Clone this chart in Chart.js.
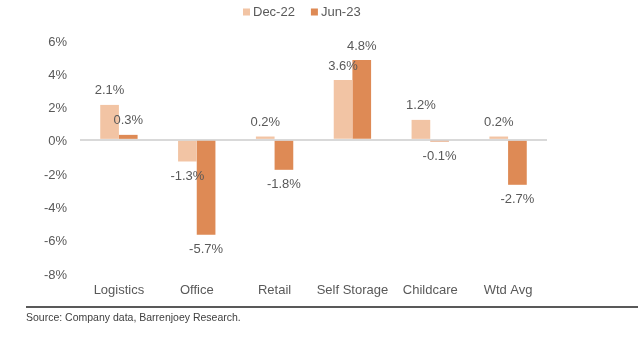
<!DOCTYPE html>
<html>
<head>
<meta charset="utf-8">
<script src="https://cdn.jsdelivr.net/npm/chart.js@4.4.0/dist/chart.umd.min.js"></script>
<style>
  body { margin: 0; background: #fff; font-family: "Liberation Sans", Arial, sans-serif; }
  #wrap { position: absolute; left: 0; top: 0; width: 638px; height: 350px; }
  #rule { position: absolute; left: 26px; right: 0; top: 306px; height: 2px; background: #595959; }
  #source { position: absolute; left: 26px; top: 311px; font-size: 10.5px; color: #404040; }
</style>
</head>
<body>
<div id="wrap"><canvas id="chart"></canvas></div>
<div id="rule"></div>
<div id="source">Source: Company data, Barrenjoey Research.</div>
<script>
// data
var categories = ["Logistics", "Office", "Retail", "Self Storage", "Childcare", "Wtd Avg"];
var dec22 = [2.1, -1.3, 0.2, 3.6, 1.2, 0.2];
var jun23 = [0.3, -5.7, -1.8, 4.8, -0.1, -2.7];
var seriesNames = ["Dec-22", "Jun-23"];
var seriesColors = ["#F2C4A4", "#DE8A55"];

var fontFam = '"Liberation Sans", Arial, sans-serif';
var grey = "#595959";

// value labels above / below each bar
var barLabels = {
    id: "barLabels",
    afterDatasetsDraw: function(chart) {
        var ctx = chart.ctx;
        ctx.save();
        ctx.font = "13px " + fontFam;
        ctx.fillStyle = grey;
        ctx.textAlign = "center";
        ctx.textBaseline = "middle";
        chart.data.datasets.forEach(function(ds, i) {
            chart.getDatasetMeta(i).data.forEach(function(bar, j) {
                var v = ds.data[j];
                var y = v >= 0 ? bar.y - 14 : bar.y + 15;
                ctx.fillText(v.toFixed(1) + "%", bar.x, y);
            });
        });
        ctx.restore();
    }
};

// small square legend at the top
var topLegend = {
    id: "topLegend",
    afterDraw: function(chart) {
        var ctx = chart.ctx;
        ctx.save();
        ctx.font = "13px " + fontFam;
        ctx.textBaseline = "middle";
        var x = 243, y = 12;
        chart.data.datasets.forEach(function(ds) {
            ctx.fillStyle = ds.backgroundColor;
            ctx.fillRect(x, y - 3.5, 7, 7);
            ctx.fillStyle = grey;
            ctx.fillText(ds.label, x + 10, y);
            x += 10 + ctx.measureText(ds.label).width + 16;
        });
        ctx.restore();
    }
};

new Chart(document.getElementById("chart"), {
    type: "bar",
    data: {
        labels: categories,
        datasets: [
            { label: seriesNames[0], data: dec22, backgroundColor: seriesColors[0] },
            { label: seriesNames[1], data: jun23, backgroundColor: seriesColors[1] }
        ]
    },
    options: {
        responsive: true,
        maintainAspectRatio: false,
        animation: false,
        layout: { padding: { left: 0, right: 91, top: 40, bottom: 47 } },
        datasets: { bar: { barPercentage: 1, categoryPercentage: 0.48 } },
        plugins: { legend: { display: false }, tooltip: { enabled: false } },
        scales: {
            x: {
                grid: { display: false },
                border: { display: false },
                ticks: { color: grey, font: { size: 13, family: fontFam }, padding: 2, maxRotation: 0 },
                afterFit: function(s) { s.height = 30; }
            },
            y: {
                min: -8, max: 6,
                border: { display: false },
                grid: {
                    drawTicks: false,
                    lineWidth: 2,
                    color: function(c) { return c.tick && c.tick.value === 0 ? "#D9D9D9" : "rgba(0,0,0,0)"; }
                },
                ticks: {
                    stepSize: 2, padding: 13, color: grey, labelOffset: 2,
                    font: { size: 13, family: fontFam },
                    callback: function(v) { return v + "%"; }
                },
                afterFit: function(s) { s.width = 80; }
            }
        }
    },
    plugins: [barLabels, topLegend]
});
</script>
</body>
</html>
